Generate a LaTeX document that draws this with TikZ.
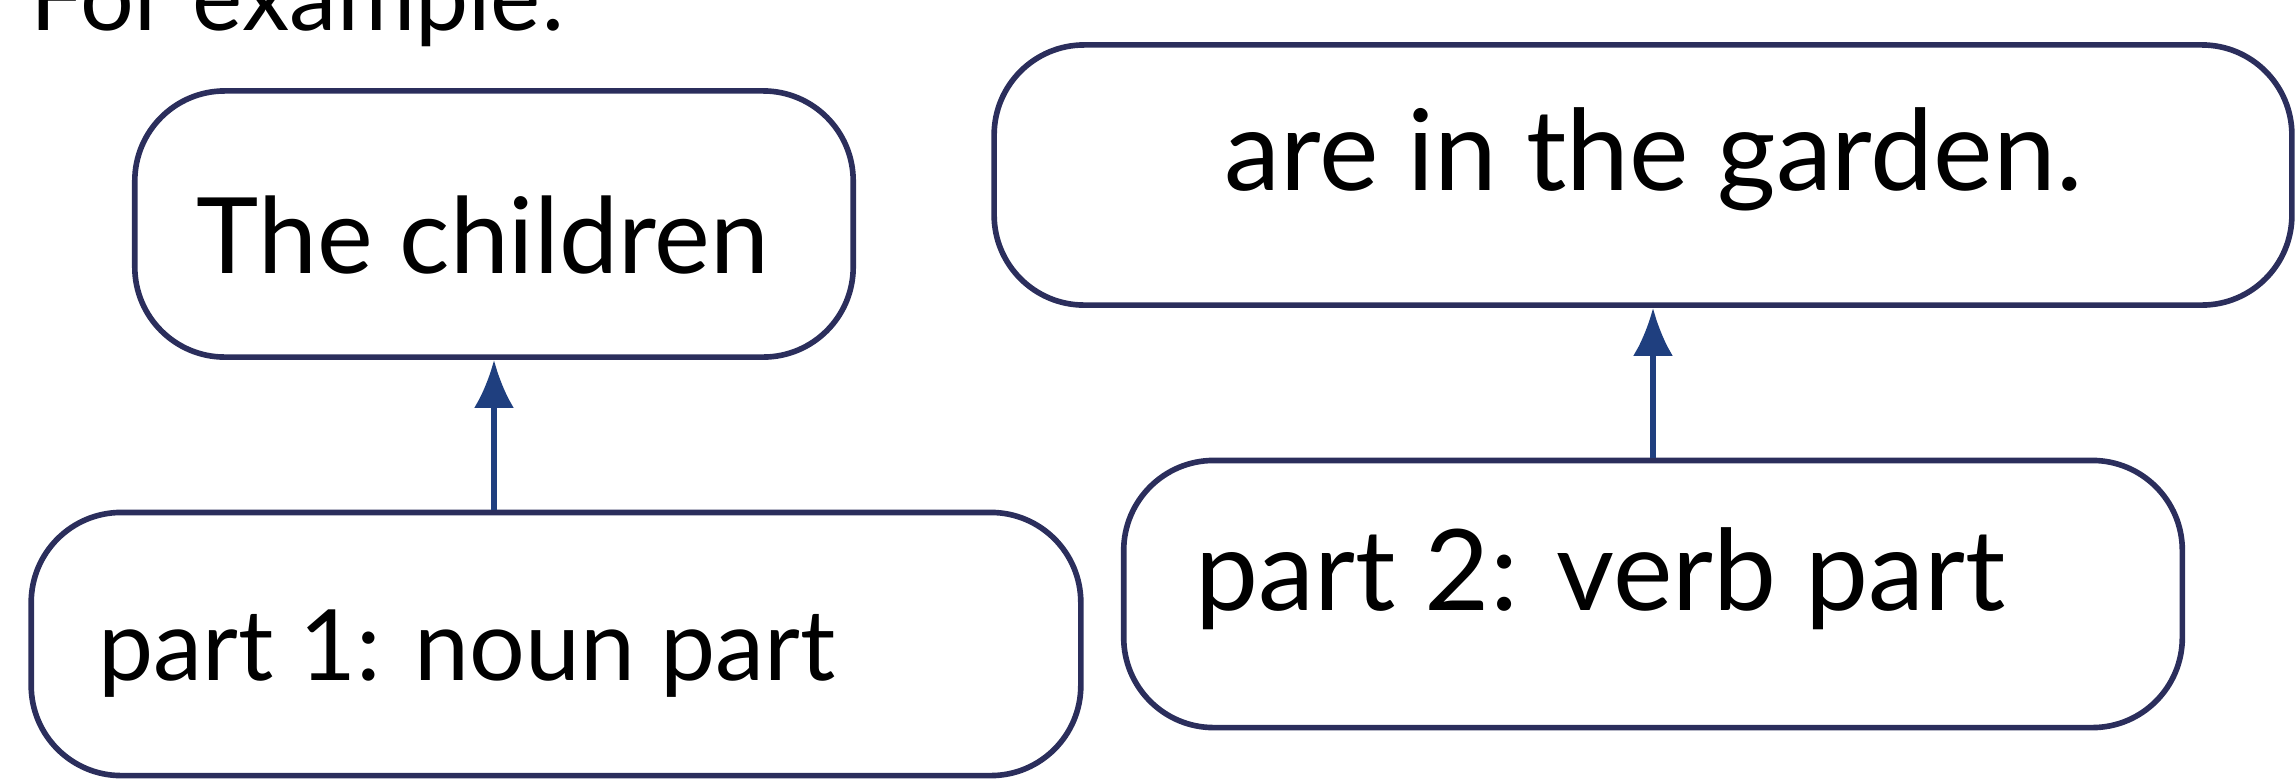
\documentclass[tikz,border=0pt]{standalone}
\usepackage{fontspec}
\setmainfont{Lato}
\usetikzlibrary{positioning, arrows.meta}
\definecolor{boxline}{HTML}{2B2E5C}
\definecolor{arrowblue}{HTML}{1F3F7F}

\begin{document}
\begin{tikzpicture}[x=0.01cm, y=-0.01cm,
    part/.style={rectangle, rounded corners=0.9cm, draw=boxline, line width=1.6pt, inner sep=0pt},
    word/.style={anchor=base west, inner sep=0pt, font=\fontsize{30}{36}\selectfont},
    arrow/.style={-{Latex[length=4.8mm, width=4mm]}, draw=arrowblue, line width=1.5pt}
  ]
  \useasboundingbox (0,0) rectangle (2295,781);
  \clip (0,0) rectangle (2295,781);
  \node[word, font=\fontsize{27}{32}\selectfont] (intro) at (30,30) {For example:};
  \node[part, minimum width=7.18cm, minimum height=2.66cm] (subj) at (494,224) {};
  \node[part, minimum width=12.97cm, minimum height=2.6cm] (pred) at (1643,175) {};
  \node[part, minimum width=10.49cm, minimum height=2.63cm] (noun) at (556,644) {};
  \node[part, minimum width=10.58cm, minimum height=2.67cm] (verb) at (1653,594) {};
  \node[word] (subjtext) at (196,273) {The children};
  \node[word, font=\fontsize{32}{38}\selectfont] (predtext) at (1224,190) {are in the garden.};
  \node[word, font=\fontsize{28}{34}\selectfont] (nountext) at (98,680) {part 1: noun part};
  \node[word, font=\fontsize{32}{38}\selectfont] (verbtext) at (1195,610) {part 2: verb part};
  \draw[arrow] (subj.south |- noun.north) -- (subj.south);
  \draw[arrow] (verb.north) -- (verb.north |- pred.south);
\end{tikzpicture}
\end{document}
